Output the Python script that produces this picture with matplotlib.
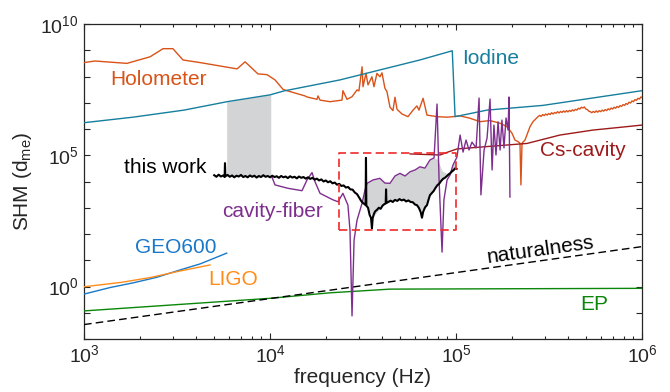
import numpy as np
import matplotlib
matplotlib.use("Agg")
import matplotlib.pyplot as plt

plt.rcParams['font.family'] = ['Liberation Sans', 'DejaVu Sans']
plt.rcParams['mathtext.fontset'] = 'custom'
plt.rcParams['mathtext.rm'] = 'Liberation Sans'
plt.rcParams['mathtext.it'] = 'Liberation Sans:italic'

# ---- data as log10(frequency), log10(SHM) ----
holo_lf = [3.000, 3.059, 3.231, 3.355, 3.425, 3.478, 3.532, 3.624, 3.823, 3.866, 3.935, 3.984,
           4.027, 4.070, 4.091, 4.188, 4.199, 4.253, 4.258, 4.269, 4.323, 4.387, 4.392, 4.414,
           4.441, 4.468, 4.478, 4.495, 4.500, 4.516, 4.527, 4.548, 4.559, 4.575, 4.591, 4.602,
           4.618, 4.629, 4.645, 4.661, 4.672, 4.683, 4.710, 4.742, 4.769, 4.790, 4.801, 4.823,
           4.844, 4.898, 4.952, 4.984, 5.022, 5.075, 5.129, 5.183, 5.237, 5.274, 5.301, 5.317,
           5.333, 5.344, 5.349, 5.355, 5.371, 5.398, 5.414,
           5.441, 5.450, 5.458, 5.466, 5.474, 5.482, 5.490, 5.498, 5.506, 5.514, 5.522, 5.530,
           5.538, 5.546, 5.554, 5.562, 5.570, 5.578, 5.586, 5.594, 5.602, 5.610, 5.618, 5.626,
           5.634, 5.642, 5.650, 5.658, 5.666, 5.674, 5.682, 5.690, 5.698, 5.706, 5.714, 5.722,
           5.730, 5.738, 5.746, 5.754, 5.762, 5.770, 5.778, 5.786, 5.794, 5.802, 5.810, 5.818,
           5.826, 5.834, 5.842, 5.850, 5.858, 5.866, 5.874, 5.882, 5.890, 5.898, 5.906, 5.914,
           5.922, 5.930, 5.938, 5.946, 5.954, 5.962, 5.970, 5.978, 5.986, 5.994, 6.000]
holo_ls = [8.53, 8.59, 8.50, 8.75, 9.06, 9.06, 8.63, 8.53, 8.29, 8.56, 8.10, 8.07,
           7.87, 7.51, 7.46, 7.26, 7.22, 7.13, 7.26, 7.10, 7.04, 7.10, 7.46, 7.13,
           7.23, 7.49, 7.45, 8.37, 7.61, 8.12, 7.68, 7.99, 7.61, 8.12, 7.99, 8.14,
           7.55, 7.42, 6.83, 6.70, 7.21, 6.75, 6.57, 6.47, 6.72, 6.88, 6.72, 7.17,
           6.53, 6.47, 6.45, 6.47, 6.50, 6.41, 6.28, 6.32, 6.22, 6.09, 5.84, 5.58,
           5.52, 5.46, 3.87, 5.46, 5.58, 6.09, 6.28,
           6.47, 6.52, 6.48, 6.55, 6.51, 6.57, 6.53, 6.59, 6.55, 6.62, 6.57, 6.63,
           6.60, 6.66, 6.61, 6.67, 6.63, 6.69, 6.64, 6.70, 6.65, 6.71, 6.67, 6.73,
           6.69, 6.75, 6.72, 6.79, 6.76, 6.83, 6.80, 6.84, 6.76, 6.74, 6.68, 6.66,
           6.62, 6.67, 6.63, 6.69, 6.64, 6.70, 6.66, 6.72, 6.68, 6.74, 6.70, 6.77,
           6.73, 6.80, 6.76, 6.83, 6.79, 6.86, 6.82, 6.89, 6.86, 6.93, 6.90, 6.97,
           6.94, 7.02, 6.99, 7.07, 7.04, 7.12, 7.09, 7.17, 7.14, 7.22, 7.20]

iod_lf = [3.000, 3.263, 3.538, 3.769, 4.000, 4.075, 4.376, 4.591, 4.806, 4.980, 4.995, 5.167, 5.468, 6.000]
iod_ls = [6.24, 6.45, 6.72, 7.04, 7.30, 7.45, 7.87, 8.25, 8.63, 8.98, 6.47, 6.72, 6.90, 7.46]

cs_lf = [4.753, 4.914, 4.960, 5.005, 5.129, 5.274, 5.382, 5.559, 5.737, 5.919, 6.000]
cs_ls = [5.05, 5.01, 5.13, 5.24, 5.31, 5.39, 5.45, 5.77, 5.96, 6.09, 6.15]

fiber_lf = [4.011, 4.027, 4.097, 4.172, 4.199, 4.226, 4.242, 4.269, 4.339, 4.366, 4.392, 4.419,
            4.430, 4.441, 4.452, 4.468, 4.495, 4.511, 4.522, 4.554, 4.591, 4.618, 4.645, 4.672,
            4.699, 4.726, 4.753, 4.780, 4.806, 4.833, 4.860, 4.882, 4.898, 4.909, 4.925, 4.935,
            4.952, 4.968, 4.984, 5.005, 5.022, 5.038, 5.054, 5.070, 5.086, 5.108, 5.124, 5.134,
            5.151, 5.167, 5.183, 5.194, 5.204, 5.215, 5.226, 5.237, 5.247, 5.258, 5.269, 5.280,
            5.285, 5.290]
fiber_ls = [4.16, 3.87, 3.74, 3.65, 4.06, 4.34, 3.99, 3.55, 3.30, 3.23, 3.55, 3.10,
            2.15, -1.12, 1.77, 2.53, 3.17, 3.68, 3.93, 4.06, 4.12, 3.94, 3.93, 4.21,
            4.31, 4.21, 4.37, 4.44, 4.56, 4.51, 4.82, 4.90, 6.95, 4.06, 1.31, 3.30,
            4.06, 4.25, 4.63, 4.93, 5.77, 5.12, 5.58, 5.20, 5.50, 5.28, 7.18, 3.49,
            5.20, 5.66, 7.14, 4.44, 6.15, 5.01, 6.27, 5.20, 6.34, 5.28, 6.42, 5.96,
            7.22, 3.41]

work_lf = [3.700, 3.712, 3.724, 3.736, 3.748, 3.756, 3.758, 3.760, 3.772, 3.784, 3.796, 3.808,
           3.820, 3.832, 3.844, 3.856, 3.868, 3.880, 3.892, 3.904, 3.916, 3.928, 3.940, 3.952,
           3.964, 3.976, 3.988, 4.000, 4.012, 4.024, 4.036, 4.048, 4.060, 4.072, 4.084, 4.096,
           4.108, 4.120, 4.132, 4.144, 4.156, 4.168, 4.180, 4.192, 4.204, 4.216, 4.228, 4.240,
           4.252, 4.264, 4.276, 4.288, 4.300, 4.312, 4.324, 4.336, 4.348, 4.360, 4.372, 4.384,
           4.396, 4.408, 4.420, 4.432, 4.444, 4.456, 4.468, 4.480, 4.490, 4.500, 4.510, 4.514,
           4.516, 4.518, 4.527, 4.536, 4.543, 4.548, 4.552, 4.558, 4.565, 4.575, 4.585, 4.595,
           4.605, 4.615, 4.622, 4.624, 4.626, 4.636, 4.648, 4.660, 4.672, 4.684, 4.696, 4.708,
           4.720, 4.732, 4.744, 4.756, 4.768, 4.780, 4.790, 4.800, 4.810, 4.817, 4.824, 4.834,
           4.844, 4.852, 4.860, 4.870, 4.880, 4.890, 4.900, 4.910, 4.920, 4.930, 4.940, 4.950,
           4.960, 4.968, 4.978, 4.988, 4.995, 5.003]
work_ls = [4.24, 4.18, 4.26, 4.19, 4.23, 4.17, 4.70, 4.20, 4.25, 4.18, 4.23, 4.16,
           4.22, 4.19, 4.25, 4.17, 4.21, 4.16, 4.23, 4.18, 4.22, 4.15, 4.21, 4.17,
           4.24, 4.18, 4.21, 4.16, 4.22, 4.17, 4.20, 4.14, 4.21, 4.16, 4.19, 4.13,
           4.20, 4.15, 4.18, 4.12, 4.19, 4.14, 4.17, 4.11, 4.16, 4.10, 4.14, 4.07,
           4.11, 4.04, 4.08, 4.00, 4.04, 3.97, 4.01, 3.93, 3.96, 3.88, 3.91, 3.83,
           3.85, 3.77, 3.79, 3.70, 3.69, 3.58, 3.52, 3.38, 3.26, 3.18, 3.13, 3.10,
           4.90, 3.08, 3.00, 2.72, 2.62, 2.22, 2.60, 2.75, 2.86, 2.92, 3.00, 2.96,
           3.08, 3.14, 3.16, 3.70, 3.18, 3.22, 3.27, 3.22, 3.30, 3.26, 3.33, 3.28,
           3.31, 3.24, 3.28, 3.22, 3.21, 3.12, 3.10, 3.00, 2.84, 2.62, 2.86, 3.02,
           3.10, 3.30, 3.48, 3.56, 3.64, 3.76, 3.86, 3.92, 4.02, 4.10, 4.14, 4.20,
           4.27, 4.31, 4.38, 4.44, 4.50, 4.48]

geo_lf = [3.000, 3.140, 3.265, 3.391, 3.516, 3.624, 3.767]
geo_ls = [-0.29, -0.04, 0.14, 0.35, 0.63, 0.86, 1.27]

ligo_lf = [3.000, 3.203, 3.355, 3.516, 3.677]
ligo_ls = [-0.01, 0.16, 0.34, 0.59, 0.82]

ep_lf = [3.000, 4.000, 4.323, 4.645, 6.000]
ep_ls = [-0.93, -0.45, -0.24, -0.10, -0.07]

nat_lf = [3.0, 6.0]
nat_ls = [-1.45, 1.52]

# grey bands
band1_lf = [3.767, 4.004]
band1_top = [7.03, 7.31]
band1_bot = [4.20, 4.20]

band2_lf = [4.495, 4.511, 4.522, 4.554, 4.591, 4.618, 4.645, 4.672, 4.699, 4.726, 4.753, 4.780,
            4.806, 4.833, 4.860, 4.882, 4.900, 4.925, 4.952, 4.968, 4.984, 4.998]
band2_top = [3.20, 3.68, 3.93, 4.06, 4.12, 3.94, 3.93, 4.21, 4.31, 4.21, 4.37, 4.44,
             4.56, 4.51, 4.82, 4.90, 4.85, 4.40, 4.30, 4.40, 4.63, 4.85]

box_f = [2.36e4, 1.0e5]
box_s = [1.4e2, 1.2e5]

c_holo = '#D95319'
c_iod = '#167E9E'
c_cs = '#9E1A1A'
c_fib = '#7E2F8E'
c_geo = '#1A78C8'
c_ligo = '#FF8C1A'
c_ep = '#0A870A'
c_axis = '#262626'

p = lambda v: 10 ** np.asarray(v)

fig = plt.figure(figsize=(6.7, 3.92), dpi=100)
ax = fig.add_axes([84 / 670, 1 - 339 / 392, (642 - 84) / 670, (339 - 24) / 392])

# shaded bands
ax.fill_between(p(band1_lf), p(band1_bot), p(band1_top), color='#D3D4D6', lw=0, zorder=1)
b2_bot = np.interp(band2_lf, work_lf, work_ls)
ax.fill_between(p(band2_lf), p(b2_bot), p(band2_top), color='#D3D4D6', lw=0, zorder=1)

ax.plot(p(holo_lf), p(holo_ls), color=c_holo, lw=1.0, zorder=3)
ax.plot(p(iod_lf), p(iod_ls), color=c_iod, lw=1.0, zorder=3)
ax.plot(p(cs_lf), p(cs_ls), color=c_cs, lw=1.0, zorder=3)
ax.plot(p(fiber_lf), p(fiber_ls), color=c_fib, lw=1.0, zorder=4)
ax.plot(p(work_lf), p(work_ls), color='k', lw=1.5, zorder=5)
ax.plot(p(geo_lf), p(geo_ls), color=c_geo, lw=1.0, zorder=3)
ax.plot(p(ligo_lf), p(ligo_ls), color=c_ligo, lw=1.0, zorder=3)
ax.plot(p(ep_lf), p(ep_ls), color=c_ep, lw=1.0, zorder=3)
ax.plot(p(nat_lf), p(nat_ls), color='k', lw=1.0, dashes=(5.5, 3), zorder=3)

# dashed box
ax.plot([box_f[0], box_f[1], box_f[1], box_f[0], box_f[0]],
        [box_s[0], box_s[0], box_s[1], box_s[1], box_s[0]],
        color='#F02A2A', lw=1.2, dashes=(5, 2.6), zorder=6)

fs = 15
ax.text(p(3.398), p(7.90), 'Holometer', color=c_holo, fontsize=fs, ha='center', va='center')
ax.text(p(5.032), p(8.70), 'Iodine', color=c_iod, fontsize=fs, ha='left', va='center')
ax.text(p(5.452), p(5.20), 'Cs-cavity', color=c_cs, fontsize=fs, ha='left', va='center')
ax.text(p(3.215), p(4.55), 'this work', color='k', fontsize=fs, ha='left', va='center')
ax.text(p(3.742), p(2.84), 'cavity-fiber', color=c_fib, fontsize=fs, ha='left', va='center')
ax.text(p(3.274), p(1.50), 'GEO600', color=c_geo, fontsize=fs, ha='left', va='center')
ax.text(p(3.667), p(0.25), 'LIGO', color=c_ligo, fontsize=fs, ha='left', va='center')
ax.text(p(5.452), p(1.40), 'naturalness', color='k', fontsize=fs, ha='center', va='center',
        rotation=8)
ax.text(p(5.667), p(-0.70), 'EP', color=c_ep, fontsize=fs, ha='left', va='center')

ax.set_xscale('log')
ax.set_yscale('log')
ax.set_xlim(1e3, 1e6)
ax.set_ylim(1e-2, 1e10)

yt = [10.0 ** k for k in range(-2, 11)]
ax.set_yticks(yt)
ax.set_yticklabels(['$10^{%d}$' % k if k in (0, 5, 10) else '' for k in range(-2, 11)])
ax.yaxis.set_minor_locator(matplotlib.ticker.NullLocator())
ax.set_xticks([1e3, 1e4, 1e5, 1e6])
ax.set_xticklabels(['$10^{3}$', '$10^{4}$', '$10^{5}$', '$10^{6}$'])

ax.tick_params(which='both', direction='in', top=True, right=True, colors=c_axis,
               labelsize=14, width=0.8)
ax.tick_params(which='major', length=4, pad=4)
ax.tick_params(which='minor', length=2.5)
for s in ax.spines.values():
    s.set_color(c_axis)
    s.set_linewidth(0.9)

ax.set_xlabel('frequency (Hz)', fontsize=15, color=c_axis, labelpad=1)
ax.set_ylabel('SHM (d$_{\\rm me}$)', fontsize=15, color=c_axis, labelpad=4)

fig.savefig('out.png', dpi=100)
